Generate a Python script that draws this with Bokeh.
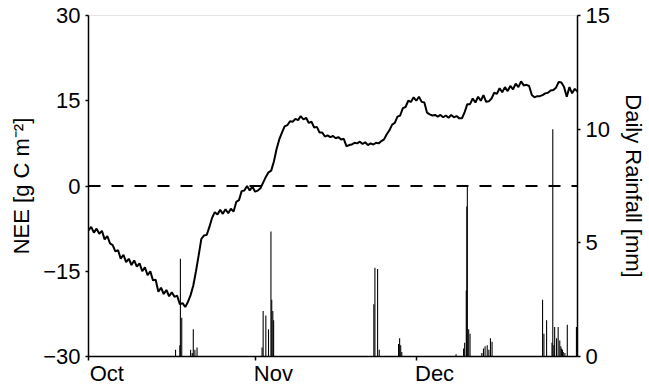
import numpy as np
from bokeh.plotting import figure
from bokeh.models import Range1d, LinearAxis, FixedTicker, Span
from bokeh.embed import file_html
from bokeh.resources import INLINE

# Cumulative NEE [g C m-2], one value every half day, starting 1 October (day 0)
nee_values = [
    -7.8, -7.2, -8.2, -7.5, -8.4, -7.9, -9.4, -8.8, -10.1, -10.4,
    -11.5, -11.3, -12.8, -12.1, -13.4, -12.8, -13.9, -13.1, -14.2, -13.6,
    -15.0, -14.3, -15.7, -15.0, -16.6, -16.5, -18.6, -17.9, -19.0, -18.3,
    -19.4, -18.7, -19.5, -19.3, -20.8, -20.6, -21.3, -20.4, -19.2, -17.5,
    -15.0, -12.2, -9.3, -8.7, -8.6, -7.2, -5.6, -4.6, -5.0, -4.2,
    -4.9, -4.1, -4.8, -4.0, -4.5, -2.8, -2.5, -0.9, -0.8, 0.0,
    -0.8, -0.1, -1.0, -0.8, -0.4, 0.6, 1.6, 2.4, 2.7, 4.3,
    6.5, 8.2, 9.4, 10.5, 10.7, 11.4, 11.3, 11.8, 11.6, 12.3,
    11.7, 12.0, 11.1, 11.3, 10.3, 10.4, 9.4, 9.4, 8.7, 8.9,
    8.6, 8.8, 8.4, 8.6, 8.2, 8.3, 7.0, 7.2, 7.3, 7.6,
    7.5, 7.8, 7.4, 7.7, 7.2, 7.5, 7.3, 7.6, 7.5, 7.9,
    8.2, 9.1, 9.8, 10.8, 11.1, 12.2, 12.4, 13.7, 13.9, 15.0,
    14.8, 15.6, 15.0, 15.7, 14.8, 14.7, 12.9, 12.6, 12.4, 12.5,
    12.2, 12.5, 12.1, 12.4, 12.0, 12.5, 12.1, 12.3, 11.9, 11.9,
    13.0, 14.4, 14.4, 15.4, 14.7, 15.7, 15.0, 16.0, 14.8, 14.9,
    15.4, 16.4, 16.2, 17.2, 16.5, 17.4, 16.7, 17.6, 17.0, 18.0,
    17.4, 18.4, 17.7, 17.8, 17.6, 16.0, 15.6, 15.8, 15.8, 16.0,
    16.3, 16.4, 16.8, 16.9, 17.3, 18.3, 18.2, 17.4, 15.7, 17.4,
    16.3, 17.1, 16.6,
]
nee_days = np.arange(len(nee_values)) * 0.5

# Rainfall events: day since 1 October and amount [mm]
rain_days = [
    16.2, 17.0, 17.1, 17.35, 19.0, 19.3, 19.5, 19.8, 20.2,
    32.3, 32.5, 33.0, 33.5, 33.95, 34.1, 34.3, 34.45,
    53.1, 53.3, 53.8, 54.1,
    57.7, 57.9, 58.1, 58.3,
    68.4, 69.8, 70.0, 70.3, 70.4, 70.5, 70.75, 71.0,
    73.2, 73.5, 73.8, 74.2, 74.5, 74.8, 75.1,
    84.5, 84.75, 85.25, 86.25, 86.4, 86.6, 86.75, 87.1, 87.4, 87.7,
    87.9, 88.05, 88.2, 88.35, 88.65, 89.1, 90.8,
]
rain_mm = [
    0.3, 0.5, 4.3, 1.7, 0.3, 0.15, 1.2, 0.3, 0.4,
    0.4, 2.0, 1.8, 1.2, 5.5, 2.5, 2.0, 1.6,
    2.3, 3.9, 3.85, 0.3,
    0.55, 0.8, 0.5, 0.2,
    0.1, 0.35, 0.6, 2.9, 6.6, 7.5, 1.2, 1.0,
    0.15, 0.35, 0.45, 0.5, 0.3, 0.8, 0.65,
    2.5, 1.0, 1.6, 0.6, 10.0, 0.5, 1.3, 0.8, 1.3, 0.7,
    0.45, 0.35, 0.3, 0.2, 0.15, 1.4, 1.3,
]

month_names = ["Oct", "Nov", "Dec"]
month_start_days = [0, 31, 61]
nee_ticks = [-30, -15, 0, 15, 30]
rain_ticks = [0, 5, 10, 15]

FONT = "Liberation Sans"
FS = "22px"

p = figure(
    width=649, height=388,
    x_range=Range1d(0, 91), y_range=Range1d(-30, 30),
    x_axis_type=None, y_axis_type=None,
    output_backend="svg", toolbar_location=None,
    min_border_left=88, min_border_right=72,
    min_border_top=15, min_border_bottom=30,
)
p.extra_y_ranges = {"rain": Range1d(0, 15)}
p.outline_line_color = "#e4e4e4"
p.outline_line_width = 1
p.background_fill_color = "white"
p.border_fill_color = "white"


def style_axis(ax, tick_out=3):
    ax.axis_line_color = "black"
    ax.axis_line_width = 1.5
    ax.major_tick_line_color = "black"
    ax.major_tick_line_width = 1.5
    ax.major_tick_out = tick_out
    ax.major_tick_in = 0
    ax.minor_tick_line_color = None
    ax.major_label_text_font = FONT
    ax.major_label_text_font_size = FS
    ax.major_label_text_color = "black"
    ax.axis_label_text_font = FONT
    ax.axis_label_text_font_size = FS
    ax.axis_label_text_font_style = "normal"
    ax.axis_label_text_color = "black"


left = LinearAxis(ticker=FixedTicker(ticks=nee_ticks), axis_label="NEE [g C m\u207b\u00b2]")
style_axis(left)
left.major_label_standoff = 5
left.axis_label_standoff = 6
p.add_layout(left, "left")

right = LinearAxis(y_range_name="rain", ticker=FixedTicker(ticks=rain_ticks),
                   axis_label="Daily Rainfall [mm]")
style_axis(right)
right.major_label_standoff = 5
right.axis_label_standoff = 8
p.add_layout(right, "right")

# Time axis: month boundaries as (visible) minor ticks, month names as
# (tick-less) major labels set just right of each boundary
label_pos = [d + 3.4 for d in month_start_days]
bottom = LinearAxis(
    ticker=FixedTicker(ticks=label_pos, minor_ticks=month_start_days),
    major_label_overrides={pos: name for pos, name in zip(label_pos, month_names)},
)
style_axis(bottom, tick_out=4)
bottom.major_tick_line_color = None
bottom.minor_tick_line_color = "black"
bottom.minor_tick_line_width = 1.5
bottom.minor_tick_out = 4
bottom.minor_tick_in = 0
bottom.major_label_standoff = 0
p.add_layout(bottom, "below")

p.vbar(x=rain_days, top=rain_mm, bottom=0, width=0.2, y_range_name="rain",
       fill_color="black", line_color=None)

p.add_layout(Span(location=0, dimension="width", line_color="black",
                  line_width=2.2, line_dash="12 11"))

p.line(nee_days, nee_values, line_color="black", line_width=2)

open("out.html", "w").write(file_html(p, INLINE))
